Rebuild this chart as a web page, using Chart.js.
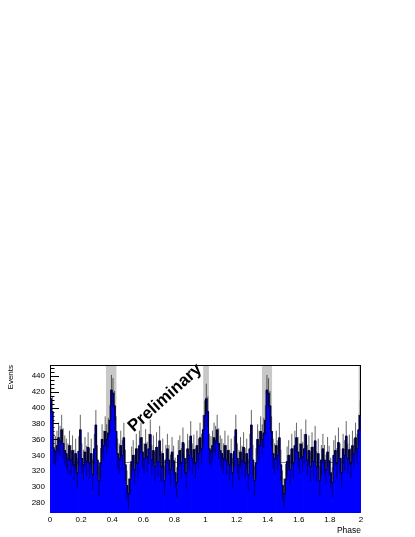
<!DOCTYPE html>
<html>
<head>
<meta charset="utf-8">
<script src="https://cdn.jsdelivr.net/npm/chart.js@4.4.1/dist/chart.umd.min.js"></script>
<style>
  html, body { margin: 0; padding: 0; background: #fff; }
</style>
</head>
<body>
<canvas id="phaseogram" width="415" height="537"></canvas>
<script>
// counts per phase bin (0.01 wide), one pulsar cycle; the plot shows it twice
const cycleCounts = [
  411, 395, 348, 345, 352, 362, 358, 372, 355, 346,
  342, 336, 352, 334, 346, 328, 342, 318, 345, 372,
  336, 328, 344, 333, 350, 330, 342, 316, 348, 378,
  334, 308, 330, 360, 352, 370, 360, 368, 384, 422,
  418, 402, 370, 342, 336, 352, 340, 362, 328, 302,
  292, 310, 332, 340, 322, 348, 330, 352, 362, 344,
  336, 354, 338, 348, 366, 334, 346, 326, 350, 332,
  358, 326, 342, 308, 334, 348, 334, 322, 344, 333,
  318, 306, 340, 346, 330, 356, 336, 318, 348, 340,
  364, 336, 347, 330, 352, 342, 362, 348, 372, 390
];
const phaseCounts = cycleCounts.concat(cycleCounts);
const binWidth = 0.01;

const xTicks = [0, 0.2, 0.4, 0.6, 0.8, 1, 1.2, 1.4, 1.6, 1.8, 2];
const yTicks = [280, 300, 320, 340, 360, 380, 400, 420, 440];
const yMinorStep = 5;

// shaded on-pulse windows (phase ranges)
const grayBands = [[0.36, 0.427], [0.985, 1.022], [1.363, 1.428], [1.985, 2]];
const bgLevel = 331;
const statErr = 19;

const tickFont = { family: "'Liberation Sans', Arial, Helvetica, sans-serif", size: 8 };
const titleFont = { family: "'Liberation Sans', Arial, Helvetica, sans-serif", size: 8.5 };

const points = phaseCounts.map((v, i) => ({ x: (i + 0.5) * binWidth, y: v }));

const histDecor = {
  id: 'histDecor',
  beforeDatasetsDraw(chart) {
    const { ctx, chartArea: a, scales: { x, y } } = chart;
    ctx.save();
    ctx.beginPath();
    ctx.rect(a.left, a.top, a.right - a.left, a.bottom - a.top);
    ctx.clip();

    ctx.fillStyle = '#c8c8c8';
    for (const [lo, hi] of grayBands) {
      const x0 = x.getPixelForValue(lo);
      const x1 = x.getPixelForValue(hi);
      ctx.fillRect(x0, a.top, x1 - x0, a.bottom - a.top);
    }

    // frame and y ticks (ROOT draws them under the histogram)
    ctx.strokeStyle = '#000';
    ctx.lineWidth = 1;
    ctx.strokeRect(a.left + 0.5, a.top + 0.5, a.right - a.left - 1, a.bottom - a.top - 1);
    ctx.beginPath();
    for (let v = yTicks[0] - 2 * yMinorStep; v <= y.max; v += yMinorStep) {
      const py = Math.round(y.getPixelForValue(v)) + 0.5;
      const len = yTicks.includes(v) ? 9 : 4.5;
      ctx.moveTo(a.left, py);
      ctx.lineTo(a.left + len, py);
    }
    ctx.stroke();
    ctx.restore();
  },
  afterDatasetsDraw(chart) {
    const { ctx, chartArea: a, scales: { x, y } } = chart;
    ctx.save();
    ctx.beginPath();
    ctx.rect(a.left, a.top, a.right - a.left, a.bottom - a.top);
    ctx.clip();
    ctx.strokeStyle = 'rgba(0,0,0,0.6)';
    ctx.lineWidth = 1;
    for (const p of points) {
      const px = x.getPixelForValue(p.x);
      ctx.beginPath();
      ctx.moveTo(px, y.getPixelForValue(p.y - statErr));
      ctx.lineTo(px, y.getPixelForValue(p.y + statErr));
      ctx.stroke();
    }
    ctx.restore();

    ctx.save();
    ctx.translate(x.getPixelForValue(0.74), y.getPixelForValue(412));
    ctx.rotate(-42 * Math.PI / 180);
    ctx.font = "bold 17px 'Liberation Sans', Arial, Helvetica, sans-serif";
    ctx.fillStyle = '#000';
    ctx.textAlign = 'center';
    ctx.textBaseline = 'middle';
    ctx.fillText('Preliminary', 0, 0);
    ctx.restore();
  }
};

new Chart(document.getElementById('phaseogram'), {
  data: {
    datasets: [
      {
        type: 'line',
        data: [{ x: 0, y: bgLevel }, { x: 2, y: bgLevel }],
        borderColor: '#8c8c8c',
        borderWidth: 1,
        pointRadius: 0,
        order: 3
      },
      {
        type: 'bar',
        data: points,
        backgroundColor: '#0000ff',
        borderWidth: 0,
        barPercentage: 1,
        categoryPercentage: 1,
        inflateAmount: 0.4,
        order: 2
      },
      {
        type: 'line',
        data: points,
        stepped: 'middle',
        borderColor: 'rgba(0,0,0,0.8)',
        borderWidth: 1,
        pointRadius: 0,
        order: 1
      }
    ]
  },
  options: {
    responsive: false,
    animation: false,
    layout: { padding: { top: 365, right: 54, left: 0, bottom: 0 } },
    plugins: { legend: { display: false }, tooltip: { enabled: false } },
    scales: {
      x: {
        type: 'linear',
        min: 0,
        max: 2,
        offset: false,
        afterBuildTicks: s => { s.ticks = xTicks.map(v => ({ value: v })); },
        afterFit: s => { s.height = 24; },
        grid: { display: false, drawTicks: false, offset: false },
        border: { display: false },
        ticks: { padding: 2, font: tickFont, color: '#000', maxRotation: 0, autoSkip: false, callback: v => String(v) },
        title: { display: true, text: 'Phase', align: 'end', font: titleFont, color: '#000', padding: { top: 0, bottom: 1 } }
      },
      y: {
        min: 267.5,
        max: 453.5,
        afterBuildTicks: s => { s.ticks = yTicks.map(v => ({ value: v })); },
        afterFit: s => { s.width = 50; },
        grid: { display: false, drawTicks: false },
        border: { display: false },
        ticks: { padding: 5, font: tickFont, color: '#000', callback: v => String(v) },
        title: { display: true, text: 'Events', align: 'end', font: { family: titleFont.family, size: 8 }, color: '#000', padding: { top: 6, bottom: 0 } }
      }
    }
  },
  plugins: [histDecor]
});
</script>
</body>
</html>
